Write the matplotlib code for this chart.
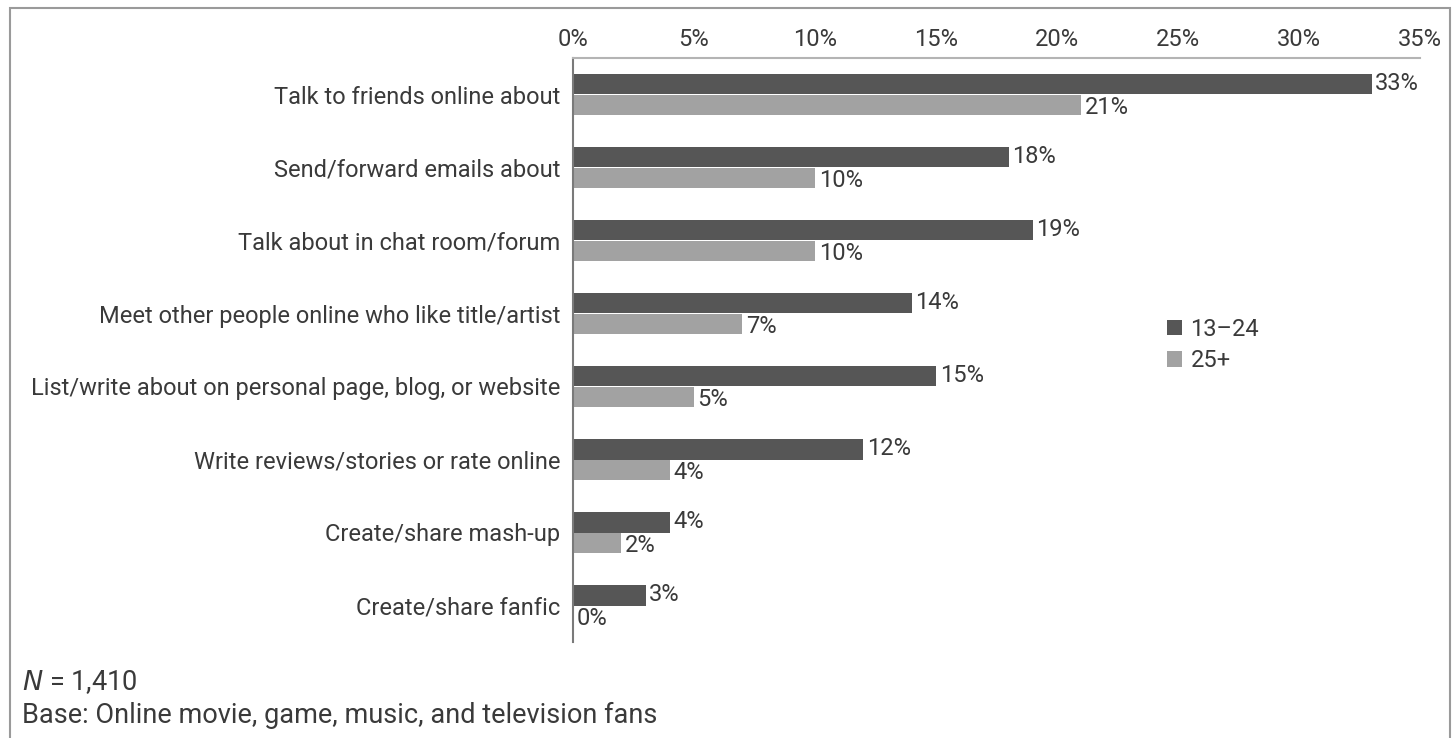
import numpy as np
import matplotlib.pyplot as plt
from matplotlib.patches import Rectangle
from matplotlib import font_manager

# -----------------------------
# Data
# -----------------------------
CATEGORIES = [
    "Talk to friends online about",
    "Send/forward emails about",
    "Talk about in chat room/forum",
    "Meet other people online who like title/artist",
    "List/write about on personal page, blog, or website",
    "Write reviews/stories or rate online",
    "Create/share mash-up",
    "Create/share fanfic",
]
YOUNG = [33, 18, 19, 14, 15, 12, 4, 3]     # 13-24
OLDER = [21, 10, 10, 7, 5, 4, 2, 0]        # 25+
SERIES_NAMES = ["13\u201324", "25+"]
XTICKS = [0, 5, 10, 15, 20, 25, 30, 35]

DARK = "#565656"
LIGHT = "#a2a2a2"
TEXT = "#3a3a3a"

# pick a narrow-ish font if available
available = {f.name for f in font_manager.fontManager.ttflist}
FONT = "Liberation Sans Narrow" if "Liberation Sans Narrow" in available else "Roboto"
plt.rcParams["font.family"] = [FONT, "DejaVu Sans"]
FS = 17
FS_NOTE = 19.5

fig = plt.figure(figsize=(14.52, 7.38), dpi=100)
ax = fig.add_axes([573 / 1452, 1 - 642 / 738, (1420 - 573) / 1452, (642 - 58) / 738])

y = np.arange(len(CATEGORIES))
h = 0.275
ax.barh(y - h / 2, YOUNG, height=h, color=DARK, label=SERIES_NAMES[0])
ax.barh(y + h / 2, OLDER, height=h, color=LIGHT, label=SERIES_NAMES[1])

for i, (a, b) in enumerate(zip(YOUNG, OLDER)):
    ax.text(a + 0.15, i - h / 2 - 0.01, f"{a}%", va="center", ha="left",
            fontsize=FS, color=TEXT)
    ax.text(b + 0.15, i + h / 2 + 0.04, f"{b}%", va="center", ha="left",
            fontsize=FS, color=TEXT)

ax.set_xlim(0, 35)
ax.set_ylim(len(CATEGORIES) - 0.5, -0.5)
ax.set_yticks(y)
ax.set_yticklabels(CATEGORIES, fontsize=FS, color=TEXT)
ax.set_xticks(XTICKS)
ax.set_xticklabels([f"{t}%" for t in XTICKS], fontsize=FS, color=TEXT)
ax.xaxis.tick_top()
ax.tick_params(axis="both", length=0)
ax.tick_params(axis="x", pad=5)
ax.tick_params(axis="y", pad=9)

for s in ["right", "bottom"]:
    ax.spines[s].set_visible(False)
ax.spines["top"].set_color("#b4b4b4")
ax.spines["top"].set_linewidth(1.5)
ax.spines["left"].set_color("#7a7a7a")
ax.spines["left"].set_linewidth(1.5)

leg = ax.legend(loc="upper left", bbox_to_anchor=((1155 - 573) / (1420 - 573), 1 - (306 - 58) / 584),
                frameon=False, fontsize=FS, handlelength=0.65, handleheight=0.65,
                handletextpad=0.35, labelspacing=0.35, borderpad=0)
for t in leg.get_texts():
    t.set_color(TEXT)

# footnotes
fig.text(22 / 1452, 1 - 682 / 738, r"$\it{N}$ = 1,410", fontsize=FS_NOTE, color=TEXT, va="center")
fig.text(22 / 1452, 1 - 715 / 738, "Base: Online movie, game, music, and television fans",
         fontsize=FS_NOTE, color=TEXT, va="center")

# outer frame
frame = Rectangle((10 / 1452, -0.05), (1450 - 10) / 1452, 1.05 - 8 / 738,
                  transform=fig.transFigure, fill=False, edgecolor="#9a9a9a",
                  linewidth=1.5, clip_on=False)
fig.patches.append(frame)

fig.savefig("out.png", dpi=100, facecolor="white")
